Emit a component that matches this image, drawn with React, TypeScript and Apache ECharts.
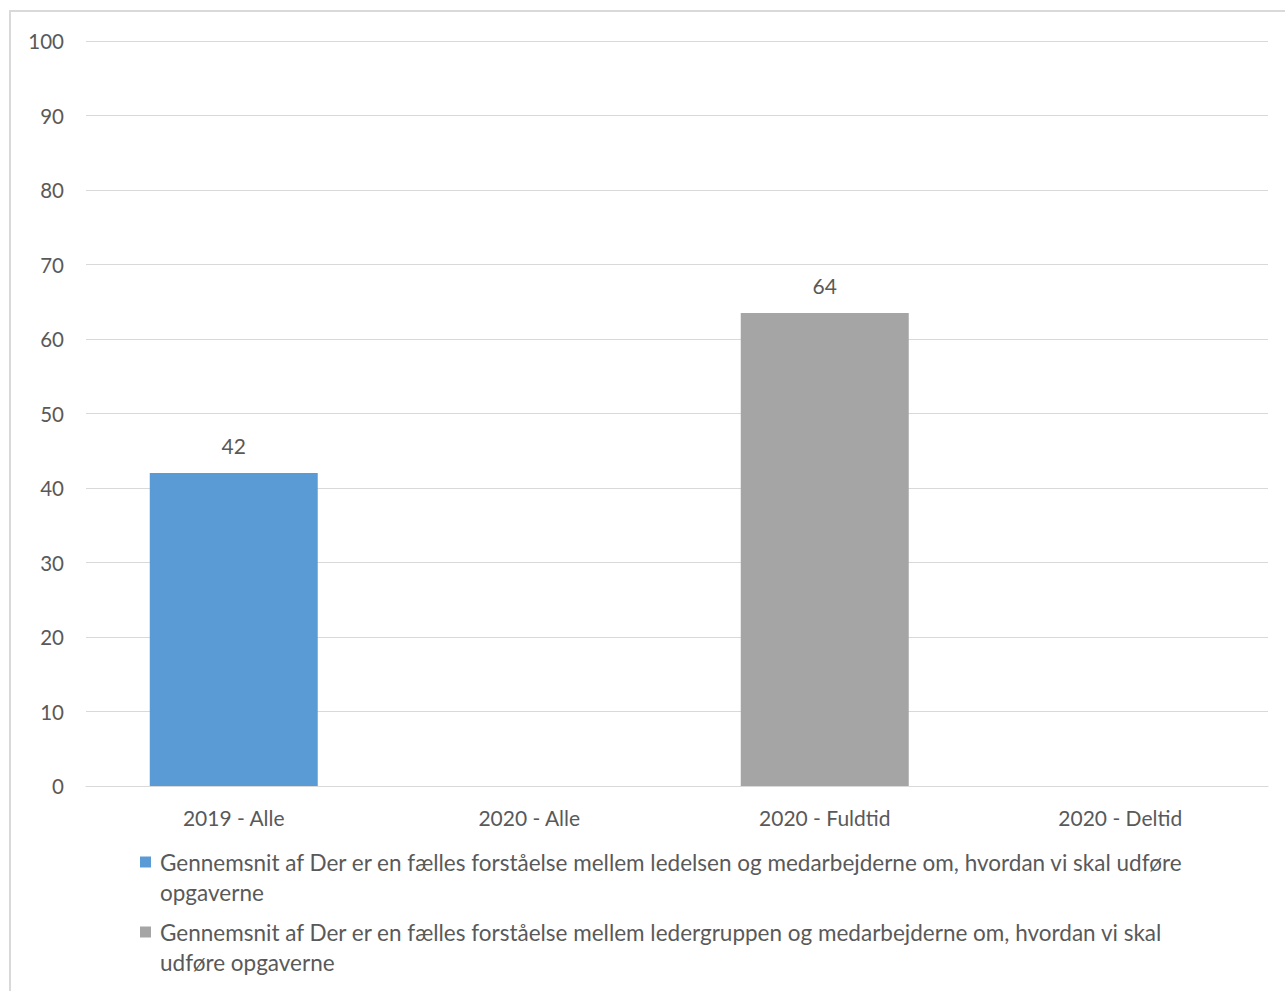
import React, { useEffect, useRef } from "react";
import * as echarts from "echarts";

const categories = ["2019 - Alle", "2020 - Alle", "2020 - Fuldtid", "2020 - Deltid"];
const seriesNames = [
  "Gennemsnit af Der er en fælles forståelse mellem ledelsen og medarbejderne om, hvordan vi skal udføre opgaverne",
  "Gennemsnit af Der er en fælles forståelse mellem ledergruppen og medarbejderne om, hvordan vi skal udføre opgaverne",
];
const seriesLedelsen: (number | null)[] = [42, null, null, null];
const seriesLedergruppen: (number | null)[] = [null, null, 63.5, null];
const seriesColors = ["#5b9bd5", "#a5a5a5"];
const legendLines = [
  ["Gennemsnit af Der er en fælles forståelse mellem ledelsen og medarbejderne om, hvordan vi skal udføre", "opgaverne"],
  ["Gennemsnit af Der er en fælles forståelse mellem ledergruppen og medarbejderne om, hvordan vi skal", "udføre opgaverne"],
];

const FONT = "Lato, 'Open Sans', sans-serif";
const TXT = "#595959";

export default function App() {
  const ref = useRef<HTMLDivElement>(null);
  useEffect(() => {
    if (!ref.current) return;
    const chart = echarts.init(ref.current, undefined, { renderer: "svg" });
    const legendGraphics: any[] = [];
    legendLines.forEach((lines, i) => {
      const baseY = 862 + i * 70;
      legendGraphics.push({
        type: "rect",
        shape: { x: 140, y: baseY - 5.5, width: 11, height: 11 },
        style: { fill: seriesColors[i] },
      });
      lines.forEach((ln, j) => {
        legendGraphics.push({
          type: "text",
          x: 160,
          y: baseY + j * 30,
          style: {
            text: ln,
            fill: TXT,
            font: `22.5px ${FONT}`,
            textVerticalAlign: "middle",
            verticalAlign: "middle",
          },
        });
      });
    });
    const labelOpt = {
      show: true,
      position: "top",
      distance: 17,
      color: TXT,
      fontFamily: FONT,
      fontSize: 21,
      formatter: (p: any) => String(Math.round(p.value)),
    };
    chart.setOption({
      animation: false,
      backgroundColor: "#ffffff",
      grid: { left: 86, right: 17, top: 41, bottom: 205, containLabel: false },
      xAxis: {
        type: "category",
        data: categories,
        axisLine: { show: true, lineStyle: { color: "#d9d9d9", width: 1 } },
        axisTick: { show: false },
        axisLabel: { color: TXT, fontFamily: FONT, fontSize: 21, margin: 21 },
      },
      yAxis: {
        type: "value",
        min: 0,
        max: 100,
        interval: 10,
        axisLine: { show: false },
        axisTick: { show: false },
        splitLine: { lineStyle: { color: "#d9d9d9", width: 1 } },
        axisLabel: { color: TXT, fontFamily: FONT, fontSize: 20.5, margin: 22 },
      },
      series: [
        {
          name: seriesNames[0],
          type: "bar",
          data: seriesLedelsen,
          barWidth: 168,
          barGap: "-100%",
          itemStyle: { color: seriesColors[0] },
          label: labelOpt,
        },
        {
          name: seriesNames[1],
          type: "bar",
          data: seriesLedergruppen,
          barWidth: 168,
          barGap: "-100%",
          itemStyle: { color: seriesColors[1] },
          label: labelOpt,
        },
      ],
      graphic: [
        {
          type: "rect",
          shape: { x: 10, y: 11, width: 1400, height: 1100 },
          style: { fill: "none", stroke: "#d9d9d9", lineWidth: 2 },
          silent: true,
        },
        ...legendGraphics,
      ],
    });
    return () => chart.dispose();
  }, []);
  return (
    <div
      ref={ref}
      style={{ position: "fixed", left: 0, top: 0, width: 1285, height: 991 }}
    />
  );
}
